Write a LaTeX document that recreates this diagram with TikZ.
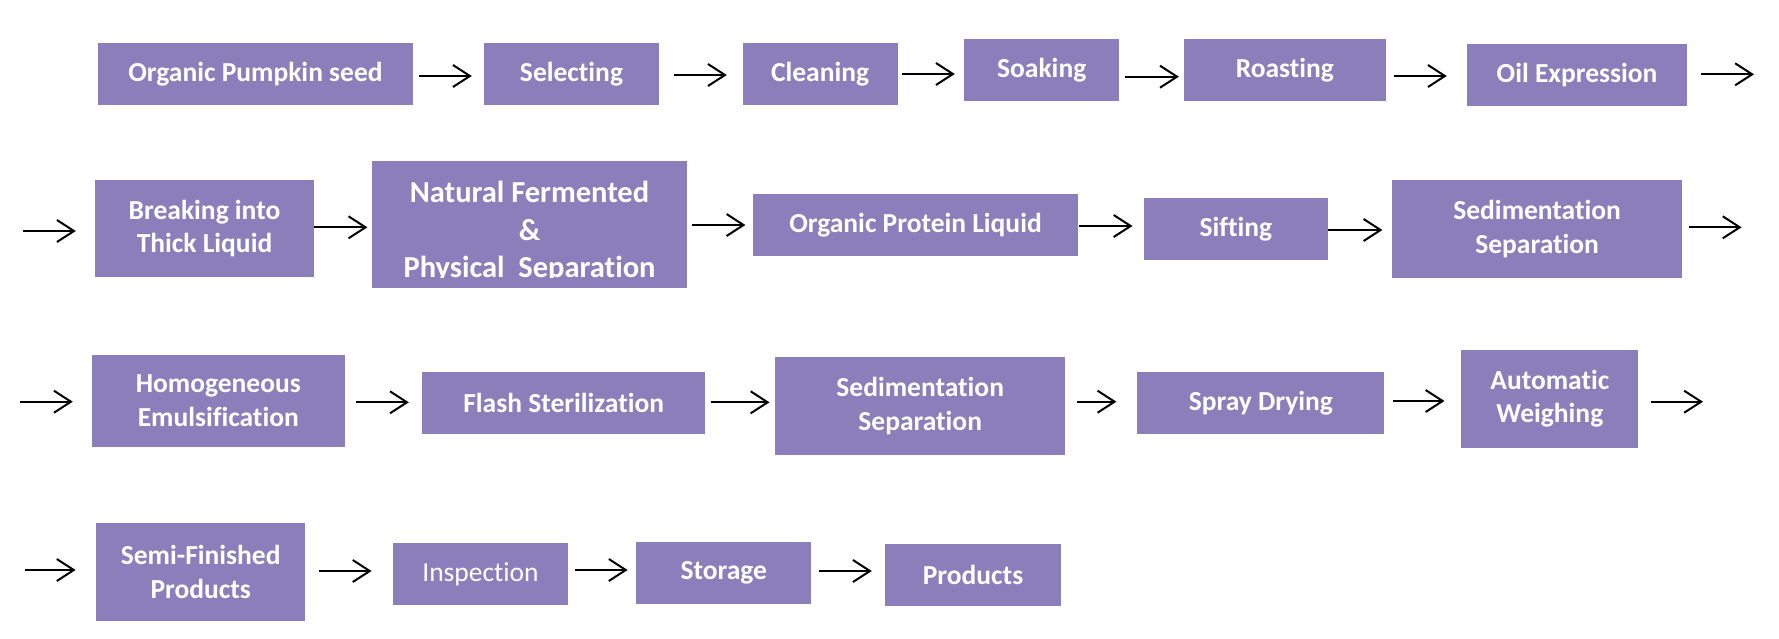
\documentclass[tikz,border=0pt]{standalone}
\usepackage{fontspec}
\setmainfont{Carlito}[Ligatures=CommonOff]
\usetikzlibrary{arrows.meta}
\definecolor{boxfill}{RGB}{138,127,186}
\begin{document}
\begin{tikzpicture}[x=1pt,y=-1pt,
  box/.style={fill=boxfill, draw=none, inner sep=0pt, text=white, align=center,
    font=\fontsize{27.5}{33.5}\selectfont\bfseries},
  bigtxt/.style={text=white, inner sep=0pt, anchor=base,
    font=\fontsize{30.5}{37}\selectfont\bfseries},
  arr/.style={line width=2pt, -{Straight Barb[length=17pt,width=22pt,line width=2pt]}}]
\useasboundingbox[fill=white] (0,0) rectangle (1779,638);

% Row 1
\node[box, minimum width=315.7, minimum height=61.7] (B1) at (255.5,74.2) {Organic Pumpkin seed};
\node[box, minimum width=175, minimum height=61.7] (B2) at (571.5,74.2) {Selecting};
\node[box, minimum width=154.8, minimum height=61.7] (B3) at (820.1,74.2) {Cleaning};
\node[box, minimum width=154.6, minimum height=61.4] (B4) at (1041.7,70) {Soaking};
\node[box, minimum width=201.5, minimum height=61.4] (B5) at (1284.8,70) {Roasting};
\node[box, minimum width=220, minimum height=61.7] (B6) at (1577,74.9) {Oil Expression};

\draw[arr, shorten <=5.7pt, shorten >=12pt] (B1.east |- 0,76) -- (B2.west |- 0,76);
\draw[arr, shorten <=15pt, shorten >=15.7pt] (B2.east |- 0,75) -- (B3.west |- 0,75);
\draw[arr, shorten <=4.5pt, shorten >=9.4pt] (B3.east |- 0,74) -- (B4.west |- 0,74);
\draw[arr, shorten <=6pt, shorten >=5pt] (B4.east |- 0,76.7) -- (B5.west |- 0,76.7);
\draw[arr, shorten <=8.5pt, shorten >=20pt] (B5.east |- 0,76) -- (B6.west |- 0,76);
\coordinate (E1) at (1754,74.3);
\draw[arr, shorten <=14pt] (B6.east |- E1) -- (E1);

% Row 2
\node[box, minimum width=219.4, minimum height=96.7] (B7) at (204.5,228.3) {Breaking into\\Thick Liquid};
\node[box, minimum width=314.4, minimum height=127.3] (B8) at (529.5,224.7) {};
\begin{scope}
  \clip (B8.north west) rectangle (B8.east |- 0,277.7);
  \node[bigtxt] (T8a) at (529.5,202.7) {Natural Fermented};
  \node[bigtxt] (T8b) at (529.5,240) {\&};
  \node[bigtxt] (T8c) at (529.5,277.3) {Physical~ Separation};
\end{scope}
\node[box, minimum width=324.2, minimum height=62] (B9) at (915.5,225) {Organic Protein Liquid};
\node[box, minimum width=184.4, minimum height=61.4] (B10) at (1235.8,229) {Sifting};
\node[box, minimum width=290.6, minimum height=97.7] (B11) at (1537.1,228.8) {Sedimentation\\Separation};

\coordinate (S2) at (23,231);
\draw[arr, shorten >=18.8pt] (S2) -- (B7.west |- S2);
\draw[arr, shorten >=4.7pt] (B7.east |- 0,227.3) -- (B8.west |- 0,227.3);
\draw[arr, shorten <=5.3pt, shorten >=7.8pt] (B8.east |- 0,225) -- (B9.west |- 0,225);
\draw[arr, shorten <=1.4pt, shorten >=10.9pt] (B9.east |- 0,226) -- (B10.west |- 0,226);
\draw[arr, shorten >=9.2pt] (B10.east |- 0,230) -- (B11.west |- 0,230);
\coordinate (E2) at (1741.6,227.3);
\draw[arr, shorten <=6.3pt] (B11.east |- E2) -- (E2);

% Row 3
\node[box, minimum width=252.6, minimum height=91.7] (B12) at (218.3,400.8) {Homogeneous\\Emulsification};
\node[box, minimum width=283.3, minimum height=61.4] (B13) at (563.7,403) {Flash Sterilization};
\node[box, minimum width=289.6, minimum height=97.7] (B14) at (920.2,406.2) {Sedimentation\\Separation};
\node[box, minimum width=247, minimum height=61.4] (B15) at (1260.8,403) {Spray Drying};
\node[box, minimum width=176.9, minimum height=97.7] (B16) at (1549.8,398.8) {Automatic\\Weighing};

\coordinate (S3) at (20,401.7);
\draw[arr, shorten >=19pt] (S3) -- (B12.west |- S3);
\draw[arr, shorten <=11.4pt, shorten >=13pt] (B12.east |- 0,402.3) -- (B13.west |- 0,402.3);
\draw[arr, shorten <=5.2pt, shorten >=5.7pt] (B13.east |- 0,402.3) -- (B14.west |- 0,402.3);
\draw[arr, shorten <=12pt, shorten >=20.7pt] (B14.east |- 0,401.7) -- (B15.west |- 0,401.7);
\draw[arr, shorten <=8.7pt, shorten >=16.7pt] (B15.east |- 0,401) -- (B16.west |- 0,401);
\coordinate (E3) at (1703,401.7);
\draw[arr, shorten <=12.8pt] (B16.east |- E3) -- (E3);

% Row 4
\node[box, minimum width=209.1, minimum height=98] (B17) at (200.7,571.7) {Semi-Finished\\Products};
\node[box, minimum width=175.4, minimum height=61.4, font=\fontsize{27.5}{33.5}\selectfont\mdseries] (B18) at (480.5,574) {Inspection};
\node[box, minimum width=174.7, minimum height=61.4] (B19) at (723.7,573) {Storage};
\node[box, minimum width=175.4, minimum height=61.7] (B20) at (973,574.9) {Products};

\coordinate (S4) at (24.5,570);
\draw[arr, shorten >=20.3pt] (S4) -- (B17.west |- S4);
\draw[arr, shorten <=13.8pt, shorten >=21pt] (B17.east |- 0,571) -- (B18.west |- 0,571);
\draw[arr, shorten <=7pt, shorten >=8.5pt] (B18.east |- 0,570) -- (B19.west |- 0,570);
\draw[arr, shorten <=7.7pt, shorten >=13.3pt] (B19.east |- 0,571) -- (B20.west |- 0,571);
\end{tikzpicture}
\end{document}
